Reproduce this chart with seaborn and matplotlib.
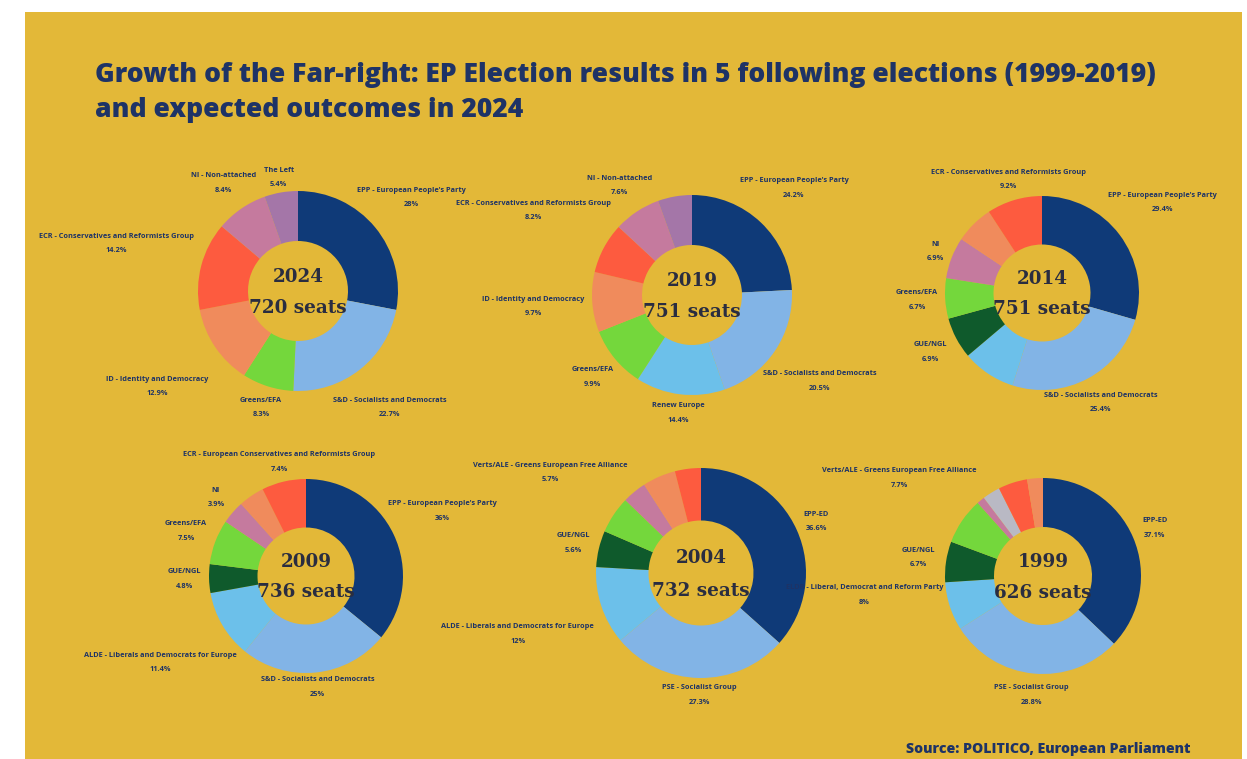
"""EP election results 1999-2024 as six donut charts."""

import matplotlib
matplotlib.use("Agg")
import matplotlib.pyplot as plt
from matplotlib.patches import Rectangle
import numpy as np
import seaborn as sns

# ---- data -------------------------------------------------------------
years = ["2024", "2019", "2014", "2009", "2004", "1999"]
seats = [720, 751, 751, 736, 732, 626]

groups_2024 = ["EPP - European People's Party", "S&D - Socialists and Democrats",
               "Greens/EFA", "ID - Identity and Democracy",
               "ECR - Conservatives and Reformists Group", "NI - Non-attached", "The Left"]
shares_2024 = [28, 22.7, 8.3, 12.9, 14.2, 8.4, 5.4]
kinds_2024 = ["epp", "sd", "greens", "id", "ecr", "ni", "left"]

groups_2019 = ["EPP - European People's Party", "S&D - Socialists and Democrats",
               "Renew Europe", "Greens/EFA", "ID - Identity and Democracy",
               "ECR - Conservatives and Reformists Group", "NI - Non-attached", None]
shares_2019 = [24.2, 20.5, 14.4, 9.9, 9.7, 8.2, 7.6, 5.5]
kinds_2019 = ["epp", "sd", "lib", "greens", "id", "ecr", "ni", "left"]

groups_2014 = ["EPP - European People's Party", "S&D - Socialists and Democrats", None,
               "GUE/NGL", "Greens/EFA", "NI", None,
               "ECR - Conservatives and Reformists Group"]
shares_2014 = [29.4, 25.4, 8.9, 6.9, 6.7, 6.9, 6.4, 9.2]
kinds_2014 = ["epp", "sd", "lib", "gue", "greens", "ni", "id", "ecr"]

groups_2009 = ["EPP - European People's Party", "S&D - Socialists and Democrats",
               "ALDE - Liberals and Democrats for Europe", "GUE/NGL", "Greens/EFA",
               "NI", None, "ECR - European Conservatives and Reformists Group"]
shares_2009 = [36, 25, 11.4, 4.8, 7.5, 3.9, 4.3, 7.4]
kinds_2009 = ["epp", "sd", "lib", "gue", "greens", "ni", "id", "ecr"]

groups_2004 = ["EPP-ED", "PSE - Socialist Group",
               "ALDE - Liberals and Democrats for Europe", "GUE/NGL",
               "Verts/ALE - Greens European Free Alliance", None, None, None]
shares_2004 = [36.6, 27.3, 12, 5.6, 5.7, 3.7, 5.1, 4.0]
kinds_2004 = ["epp", "sd", "lib", "gue", "greens", "ni", "id", "ecr"]

groups_1999 = ["EPP-ED", "PSE - Socialist Group",
               "ELDR - Liberal, Democrat and Reform Party", "GUE/NGL",
               "Verts/ALE - Greens European Free Alliance", None, None, None, None]
shares_1999 = [37.1, 28.8, 8, 6.7, 7.7, 1.3, 2.9, 4.8, 2.6]
kinds_1999 = ["epp", "sd", "lib", "gue", "greens", "ni", "tdi", "ecr", "id"]

groups = [groups_2024, groups_2019, groups_2014, groups_2009, groups_2004, groups_1999]
shares = [shares_2024, shares_2019, shares_2014, shares_2009, shares_2004, shares_1999]
kinds = [kinds_2024, kinds_2019, kinds_2014, kinds_2009, kinds_2004, kinds_1999]

# ---- style / layout ---------------------------------------------------
COLORS = {
    "epp": "#0f3a78", "sd": "#82b4e6", "lib": "#6cc0ea", "greens": "#74d73c",
    "gue": "#0f5a2c", "left": "#a476a8", "ni": "#c57a9e", "id": "#f08b5c",
    "ecr": "#fd5b3f", "tdi": "#b9b9c4",
}
BG = "#e3b838"
NAVY_TXT = "#1e3366"

W, H = 1247, 759
# donut centre (px) and outer radius (px)
CENTERS = [(298, 291, 100), (692, 295, 100), (1042, 293, 97),
           (306, 576, 97), (701, 573, 105), (1043, 576, 98)]
LABEL_DIST = [
    [1.47, 1.48, 1.22, 1.70, 1.88, 1.31, 1.15],
    [1.48, 1.54, 1.19, 1.29, 1.59, 1.80, 1.31, 1.0],
    [1.55, 1.28, 1.0, 1.30, 1.29, 1.18, 1.0, 1.22],
    [1.56, 1.15, 1.75, 1.25, 1.32, 1.23, 1.0, 1.21],
    [1.20, 1.16, 1.84, 1.25, 1.73, 1.0, 1.0, 1.0],
    [1.24, 1.22, 1.83, 1.29, 1.77, 1.0, 1.0, 1.0, 1.0],
]
ANGLE_NUDGE = {(5, 2): 12}   # clockwise degrees

sns.set_theme(style="white")
plt.rcParams["font.family"] = ["Open Sans", "DejaVu Sans"]

fig = plt.figure(figsize=(W / 100, H / 100), dpi=100, facecolor="white")
fig.patches.append(Rectangle((25 / W, 0), (1242 - 25) / W, 1 - 12 / H,
                             transform=fig.transFigure, facecolor=BG,
                             edgecolor="none", zorder=-10))

fig.text(95 / W, 1 - 82 / H,
         "Growth of the Far-right: EP Election results in 5 following elections (1999-2019)",
         fontsize=19.1, fontweight=800, color=NAVY_TXT, va="baseline")
fig.text(95 / W, 1 - 117 / H, "and expected outcomes in 2024",
         fontsize=19.1, fontweight=800, color=NAVY_TXT, va="baseline")
fig.text(1190 / W, 1 - 753 / H, "Source: POLITICO, European Parliament",
         fontsize=10.2, fontweight=800, color=NAVY_TXT, ha="right", va="baseline")

for i, year in enumerate(years):
    cx, cy, r = CENTERS[i]
    ax = fig.add_axes([(cx - r) / W, 1 - (cy + r) / H, 2 * r / W, 2 * r / H])
    ax.set_facecolor("none")
    ax.patch.set_alpha(0)
    wedges, _ = ax.pie(shares[i], colors=[COLORS[k] for k in kinds[i]],
                       startangle=90, counterclock=False, radius=1,
                       wedgeprops=dict(width=0.5, edgecolor="none"))
    ax.set_xlim(-1, 1)
    ax.set_ylim(-1, 1)
    ax.set_axis_off()

    for j, (w, name) in enumerate(zip(wedges, groups[i])):
        if name is None:
            continue
        mid = np.deg2rad((w.theta1 + w.theta2) / 2 - ANGLE_NUDGE.get((i, j), 0))
        d = LABEL_DIST[i][j]
        ax.text(d * np.cos(mid), d * np.sin(mid), f"{name}\n{shares[i][j]:g}%",
                ha="center", va="center", fontsize=5.3, fontweight="bold",
                color=NAVY_TXT, linespacing=2.5)

    ax.text(0, 0.14, year, ha="center", va="center", fontsize=13.2,
            fontweight="bold", family="DejaVu Serif", color="#2a2d40")
    ax.text(0, -0.17, f"{seats[i]} seats", ha="center", va="center", fontsize=13.2,
            fontweight="bold", family="DejaVu Serif", color="#2a2d40")

fig.savefig("out.png", dpi=100, facecolor="white")
